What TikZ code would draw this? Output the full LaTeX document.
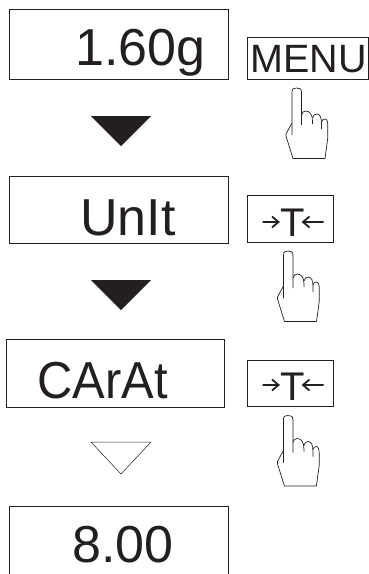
\documentclass[tikz,border=0pt]{standalone}
\usepackage{fontspec}
\setmainfont{Liberation Sans}
\definecolor{ink}{RGB}{35,31,32}
\tikzset{
  x=1pt,y=-1pt,
  display/.style={draw=ink,line width=0.9pt},
  keybox/.style={draw=ink,line width=0.8pt},
  lcd/.style={font=\fontsize{52}{52}\selectfont,text=ink,anchor=base west,inner sep=0pt},
  keytext/.style={text=ink,anchor=base,inner sep=0pt},
  solidtri/.style={fill=ink,draw=none},
  opentri/.style={draw=ink,line width=0.5pt},
  tare/.style={draw=ink,line width=1.8pt,line join=miter},
  handline/.style={draw=ink,line width=0.7pt,line join=round},
  pics/handpic/.style={code={
    \draw[handline] (0,47) -- (0,4) .. controls (0,0.5) and (2,0) .. (4.5,0) .. controls (7,0) and (9.5,0.5) .. (9.5,4) -- (9.5,37);
    \draw[handline] (9.5,27) .. controls (10,24) and (12,23) .. (14,23) .. controls (18,23) and (20.5,27) .. (20.5,33) -- (20.5,36);
    \draw[handline] (20.5,30) .. controls (21,27) and (23,26) .. (25,26) .. controls (28,26) and (29.5,30) .. (29.5,35) -- (29.5,41);
    \draw[handline] (29.5,34) .. controls (30,32) and (31.5,31) .. (33,31) .. controls (35,31) and (35.8,34) .. (35.8,38) -- (35.8,50) -- (33,70.5) -- (1,70.5) -- (-6,48) -- (-6,46) -- (0,35);
  }},
  pics/tarearrows/.style={code={
    \draw[tare] (-30.5,0) -- (-15.5,0) (-21,-5.5) -- (-14.5,0) -- (-21,5.5);
    \draw[tare] (30.5,0) -- (10.5,0) (16.5,-5.5) -- (10,0) -- (16.5,5.5);
  }}
}
\begin{document}
\begin{tikzpicture}
\useasboundingbox (0,0) rectangle (369,574);
% displays
\draw[display] (9.5,9) rectangle (228,79);
\node[lcd] (t1) at (75,65) {1.60g};
\path[solidtri] (91,116) -- (151,116) -- (121,146) -- cycle;
\draw[display] (9.5,176) rectangle (228,243);
\node[lcd] (t2) at (80,235) {UnIt};
\path[solidtri] (91,280) -- (151,280) -- (121,310) -- cycle;
\draw[display] (6.5,339.5) rectangle (224.5,407);
\node[lcd] (t3) at (37.5,398) {\scalebox{.94}[1]{CArAt}};
\draw[opentri] (91,442) -- (151,442) -- (121,474) -- cycle;
\draw[display] (9.5,575) -- (9.5,506.5) -- (228,506.5) -- (228,575);
\node[lcd] (t4) at (72,562) {8.00};
% MENU key
\draw[keybox] (247.5,37.5) rectangle (368,79);
\node[keytext,font=\fontsize{39.5}{39.5}\selectfont] (menu) at (308.5,72.7) {MENU};
\pic at (292,88) {handpic};
% tare key 1
\draw[keybox] (247.7,195.7) rectangle (333,242.7);
\node[keytext,font=\fontsize{40}{40}\selectfont] (tareA) at (293,236.7) {T};
\pic at (293,222) {tarearrows};
\pic at (283.5,251) {handpic};
% tare key 2
\draw[keybox] (247.7,360) rectangle (333,406.7);
\node[keytext,font=\fontsize{40}{40}\selectfont] (tareB) at (292.5,400.7) {T};
\pic at (293,385) {tarearrows};
\pic at (283.4,415.5) {handpic};
\end{tikzpicture}
\end{document}
